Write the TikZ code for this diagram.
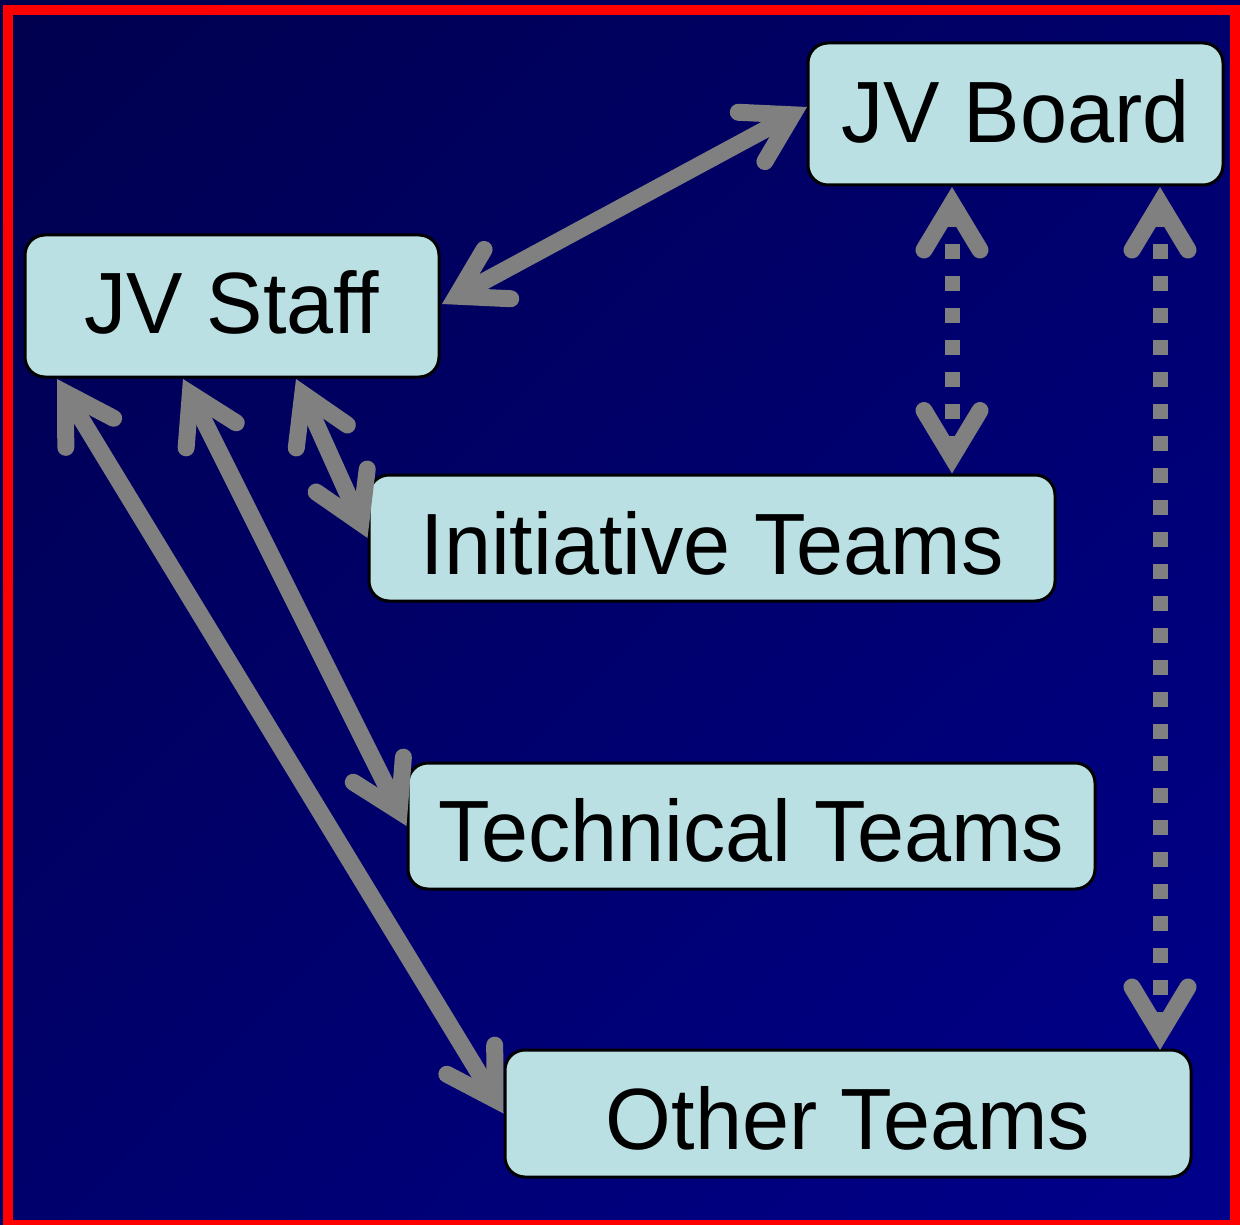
\documentclass[tikz,border=0pt]{standalone}
\usepackage{fontspec}
\setmainfont[FakeStretch=0.972]{Liberation Sans}
\usetikzlibrary{arrows.meta,calc,shadings}
\definecolor{boxfill}{RGB}{187,224,227}
\definecolor{conngray}{RGB}{128,128,128}
\definecolor{bgdark}{RGB}{0,0,78}
\definecolor{bgmid}{RGB}{0,0,108}
\definecolor{bglight}{RGB}{0,0,140}
\definecolor{framered}{RGB}{255,0,0}
\tikzset{
  vbarb/.tip={Straight Barb[length=46.5pt,width=56pt,line width=17pt,line cap=round,line join=miter]},
  box/.style={draw=black, line width=3pt, fill=boxfill, rounded corners=20pt, inner sep=0pt,
    text=black, font=\fontsize{87}{97}\selectfont},
  link/.style={draw=conngray, line width=17pt, arrows={vbarb-vbarb}},
  dotlink/.style={draw=conngray, line width=15pt, dash pattern=on 15pt off 17pt, arrows={vbarb-vbarb}}
}
\begin{document}
\begin{tikzpicture}[x=1pt,y=-1pt]
\useasboundingbox (0,0) rectangle (1240,1225);
\shade[upper left=bgdark, upper right=bgmid, lower left=bgmid, lower right=bglight] (0,0) rectangle (1240,1225);
\draw[framered, line width=10pt] (8,10) rectangle (1235,1225);

\node[box, minimum width=415pt, minimum height=142pt, text height=62.3pt, text depth=6pt] (board) at (1015.5,114) {JV Board};
\node[box, minimum width=414pt, minimum height=142pt, text height=62.3pt, text depth=7pt] (staff) at (232,306) {JV Staff};
\node[box, minimum width=686pt, minimum height=126pt, text height=72.3pt, text depth=0pt] (init) at (712,538) {Initiative Teams};
\node[box, minimum width=687pt, minimum height=126pt, text height=70.3pt, text depth=0pt] (tech) at (751.5,826) {Technical Teams};
\node[box, minimum width=686pt, minimum height=127pt, text height=72.3pt, text depth=0pt] (other) at (848,1113.5) {Other Teams};

\draw[link] ($(staff.east)+(1.5,-2)$) -- ($(board.west)+(0.5,-7)$);
\draw[link] ($(staff.south)+(64,0.5)$) -- (init.west);
\draw[link] ($(staff.south)+(-49,0.5)$) -- (tech.west);
\draw[link] ($(staff.south)+(-175,0.5)$) -- (other.west);
\draw[dotlink] ($(board.south)+(-63.5,0.5)$) -- ($(init.north)+(240,0)$);
\draw[dotlink] ($(board.south)+(144.5,0.5)$) -- ($(other.north)+(312,1.5)$);
\end{tikzpicture}
\end{document}
